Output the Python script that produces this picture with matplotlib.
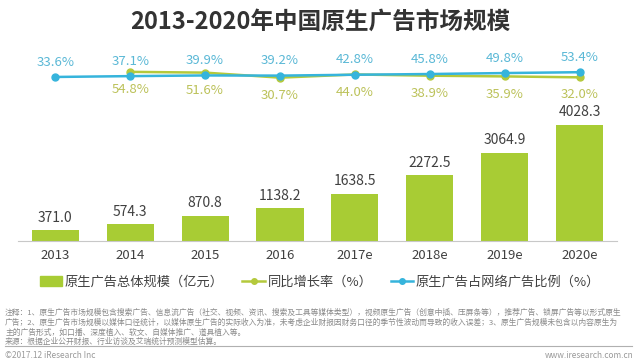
import numpy as np
import matplotlib
matplotlib.use("Agg")
import matplotlib.pyplot as plt
from matplotlib.lines import Line2D
from matplotlib.patches import Patch

plt.rcParams['font.family'] = ['Noto Sans CJK SC', 'DejaVu Sans']

years = ['2013', '2014', '2015', '2016', '2017e', '2018e', '2019e', '2020e']
scale = [371.0, 574.3, 870.8, 1138.2, 1638.5, 2272.5, 3064.9, 4028.3]
growth = [None, 54.8, 51.6, 30.7, 44.0, 38.9, 35.9, 32.0]
share = [33.6, 37.1, 39.9, 39.2, 42.8, 45.8, 49.8, 53.4]

bar_c = '#a8cc34'
green_c = '#b4c93c'
blue_c = '#36b4dc'
green_txt = '#bcc25a'
blue_txt = '#5ab8d6'
dark = '#404040'

fig = plt.figure(figsize=(6.4, 3.63), dpi=100)
ax = fig.add_axes([0.028, 0.336, 0.936, 0.50])
x = np.arange(len(years))

ax.bar(x, scale, width=0.63, color=bar_c, zorder=2)
for xi, v in zip(x, scale):
    ax.annotate(f'{v:.1f}', (xi, v), xytext=(0, 4), textcoords='offset points',
                ha='center', va='bottom', fontsize=10, color=dark)
ax.set_xlim(-0.5, 7.5)
ax.set_ylim(0, 6285)
ax.set_yticks([])
ax.set_xticks(x)
ax.set_xticklabels(years, fontsize=9.5, color=dark)
ax.tick_params(axis='x', length=0, pad=6)
for s in ['top', 'right', 'left']:
    ax.spines[s].set_visible(False)
ax.spines['bottom'].set_color('#c8c8c8')

# percentages on a compressed second axis, so the two lines sit almost flat
ax2 = ax.twinx()
ax2.set_ylim(-648, 106)
ax2.set_yticks([])
for s in ax2.spines.values():
    s.set_visible(False)

gx = [xi for xi, g in zip(x, growth) if g is not None]
gy = [g for g in growth if g is not None]
ax2.plot(gx, gy, color=green_c, lw=1.8, marker='o', ms=5, zorder=3)
ax2.plot(x, share, color=blue_c, lw=1.8, marker='o', ms=5, zorder=4)
for xi, v in zip(x, share):
    ax2.annotate(f'{v:.1f}%', (xi, v), xytext=(0, 6), textcoords='offset points',
                 ha='center', va='bottom', fontsize=9.5, color=blue_txt)
for xi, v in zip(gx, gy):
    ax2.annotate(f'{v:.1f}%', (xi, v), xytext=(0, -8), textcoords='offset points',
                 ha='center', va='top', fontsize=9.5, color=green_txt)

fig.text(0.5, 0.94, '2013-2020年中国原生广告市场规模', ha='center', va='center',
         fontsize=17, fontweight='bold', color='#333333')

handles = [Patch(color=bar_c),
           Line2D([], [], color=green_c, lw=1.8, marker='o', ms=4),
           Line2D([], [], color=blue_c, lw=1.8, marker='o', ms=4)]
labels = ['原生广告总体规模（亿元）', '同比增长率（%）', '原生广告占网络广告比例（%）']
fig.legend(handles, labels, loc='center', bbox_to_anchor=(0.5, 0.223), ncol=3,
           frameon=False, fontsize=9.5, handlelength=1.7, handletextpad=0.2,
           columnspacing=1.4, labelcolor=dark)

notes = ['注释：1、原生广告市场规模包含搜索广告、信息流广告（社交、视频、资讯、搜索及工具等媒体类型），视频原生广告（创意中插、压屏条等），推荐广告、锁屏广告等以形式原生',
         '广告；2、原生广告市场规模以媒体口径统计，以媒体原生广告的实际收入为准，未考虑企业财报因财务口径的季节性波动而导致的收入误差；3、原生广告规模未包含以内容原生为',
         '主的广告形式，如口播、深度植入、软文、自媒体推广、道具植入等。',
         '来源：根据企业公开财报、行业访谈及艾瑞统计预测模型估算。']
for i, t in enumerate(notes):
    fig.text(0.008, 1 - (313 + i * 9.6) / 363, t, ha='left', va='center',
             fontsize=5.6, color='#8a8a8a')
fig.add_artist(Line2D([0.008, 0.988], [1 - 346 / 363] * 2, color='#b0b0b0', lw=0.8))
fig.text(0.008, 1 - 355 / 363, '©2017.12 iResearch Inc', ha='left', va='center',
         fontsize=6, color='#9a9a9a')
fig.text(0.99, 1 - 355 / 363, 'www.iresearch.com.cn', ha='right', va='center',
         fontsize=6, color='#9a9a9a')

fig.savefig('out.png', dpi=100)
